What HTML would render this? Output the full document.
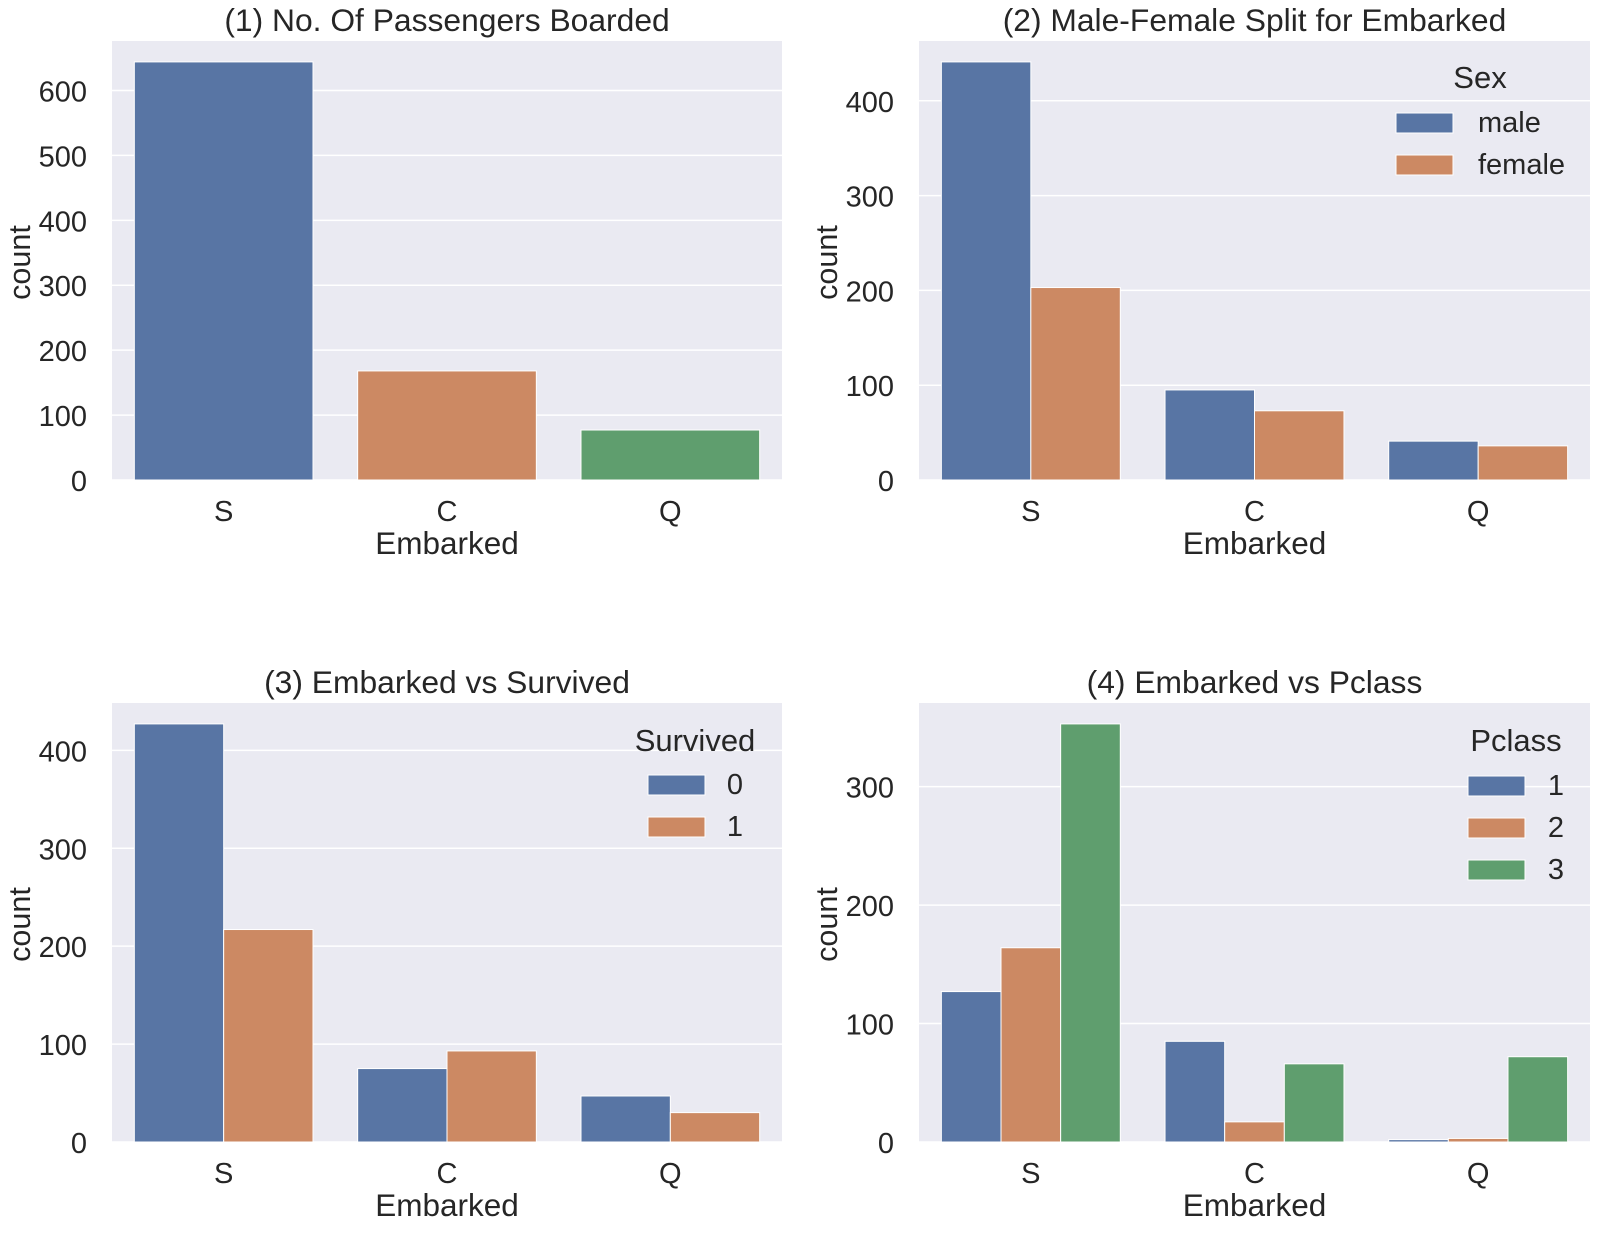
<!DOCTYPE html>
<html><head><meta charset="utf-8"><style>
html,body{margin:0;padding:0;background:#fff}
svg{display:block;font-family:"Liberation Sans",Arial,sans-serif}
</style></head><body>
<svg id="fig" width="1600" height="1233" viewBox="0 0 1600 1233" xmlns="http://www.w3.org/2000/svg"></svg>
<script>
const categories = ["S","C","Q"];
// panel 1
const p1Counts = [644,168,77];
// panel 2
const p2Hue = ["male","female"];
const p2Male = [441,95,41];
const p2Female = [203,73,36];
// panel 3
const p3Hue = ["0","1"];
const p3Died = [427,75,47];
const p3Surv = [217,93,30];
// panel 4
const p4Hue = ["1","2","3"];
const p4C1 = [127,85,2];
const p4C2 = [164,17,3];
const p4C3 = [353,66,72];
const p1Ticks = [0,100,200,300,400,500,600];
const p2Ticks = [0,100,200,300,400];
const p3Ticks = [0,100,200,300,400];
const p4Ticks = [0,100,200,300];

const COLORS = ["#5875a4","#cc8963","#5f9e6e"];
const NS = "http://www.w3.org/2000/svg";
const svg = document.getElementById("fig");
function mk(tag, attrs, parent, text){
  const e = document.createElementNS(NS, tag);
  for (const k in attrs) e.setAttribute(k, attrs[k]);
  if (text !== undefined) e.textContent = text;
  (parent||svg).appendChild(e);
  return e;
}

function panel(id, box, title, series, ticks, legendTitle, hueLabels, leg){
  const g = mk("g", {});
  
  
  const {x0,x1,y0,y1} = box;
  let maxV = 0; series.forEach(s=>s.forEach(v=>{ if(v>maxV) maxV=v; }));
  const yMax = maxV*1.05;
  const yS = v => y1 - v/yMax*(y1-y0);
  const bw = (x1-x0)/categories.length;
  const xS = i => x0 + bw*(i+0.5);
  const bg = mk("rect",{x:x0,y:y0,width:x1-x0,height:y1-y0,fill:"#eaeaf2"},g);
  
  
  ticks.forEach(t=>{
    const y = yS(t);
    const gl = mk("line",{x1:x0,x2:x1,y1:y,y2:y,stroke:"#fff","stroke-width":1.5},g);
    
    
    const tl = mk("text",{x:x0-25,y:y+11,"text-anchor":"end","font-size":29,fill:"#262626"},g,String(t));
    
    
  });
  const n = series.length;
  const groupW = bw*0.8, sw = groupW/n;
  series.forEach((s,si)=>{
    s.forEach((v,ci)=>{
      const left = xS(ci) - groupW/2 + si*sw;
      const color = n===1 ? COLORS[ci] : COLORS[si];
      const r = mk("rect",{x:left,y:yS(v),width:sw,height:y1-yS(v),fill:color,stroke:"#fff","stroke-width":1},g);
      
      
    });
  });
  categories.forEach((c,i)=>{
    const t = mk("text",{x:xS(i),y:y1+41,"text-anchor":"middle","font-size":29,fill:"#262626"},g,c);
    
    
  });
  const xl = mk("text",{x:(x0+x1)/2,y:y1+74,"text-anchor":"middle","font-size":31.5,fill:"#262626"},g,"Embarked");
  
  
  const cy = (y0+y1)/2 + 2;
  const yl = mk("text",{x:x0-82,y:cy,"text-anchor":"middle","font-size":30.5,fill:"#262626",transform:`rotate(-90 ${x0-82} ${cy})`},g,"count");
  
  
  const tt = mk("text",{x:(x0+x1)/2,y:y0-10,"text-anchor":"middle","font-size":31.8,fill:"#262626"},g,title);
  
  
  if (legendTitle){
    const lg = mk("g",{},g);
    
    
    const lt = mk("text",{x:leg.tx,y:leg.ty,"text-anchor":"middle","font-size":31,fill:"#262626"},lg,legendTitle);
    
    
    hueLabels.forEach((h,i)=>{
      const py = leg.py + i*42;
      const p = mk("rect",{x:leg.px,y:py,width:57,height:20,fill:COLORS[i],stroke:"#fff","stroke-width":1},lg);
      
      
      const l = mk("text",{x:leg.lx,y:py+19,"text-anchor":leg.anchor,"font-size":29,fill:"#262626"},lg,h);
      
      
    });
  }
}

panel("panel-boarded",{x0:112,x1:782,y0:41,y1:480},"(1) No. Of Passengers Boarded",[p1Counts],p1Ticks);
panel("panel-sex",{x0:919,x1:1590,y0:41,y1:480},"(2) Male-Female Split for Embarked",[p2Male,p2Female],p2Ticks,"Sex",p2Hue,{tx:1480,ty:88,px:1396,py:113,lx:1478,anchor:"start"});
panel("panel-survived",{x0:112,x1:782,y0:703,y1:1142},"(3) Embarked vs Survived",[p3Died,p3Surv],p3Ticks,"Survived",p3Hue,{tx:695,ty:751,px:648,py:775,lx:735,anchor:"middle"});
panel("panel-pclass",{x0:919,x1:1590,y0:703,y1:1142},"(4) Embarked vs Pclass",[p4C1,p4C2,p4C3],p4Ticks,"Pclass",p4Hue,{tx:1516,ty:751,px:1468,py:776,lx:1556,anchor:"middle"});
</script>
</body></html>
